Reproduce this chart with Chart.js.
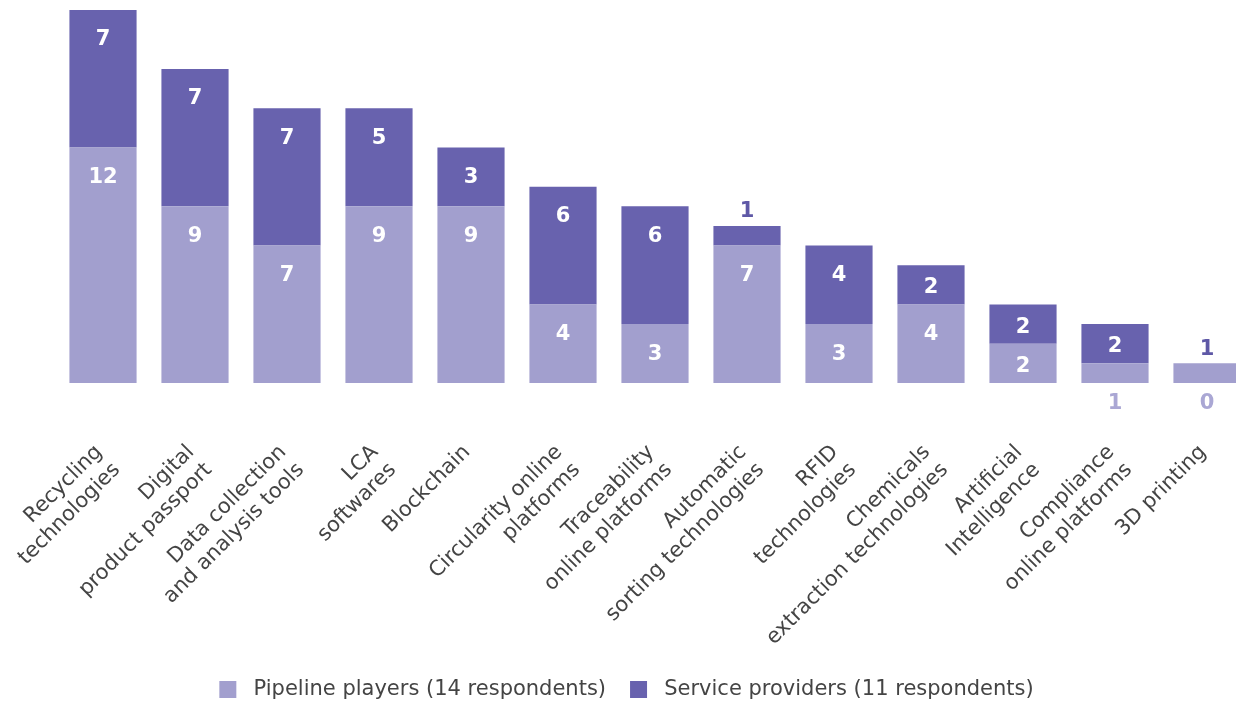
<!DOCTYPE html>
<html lang="en">
<head>
  <meta charset="UTF-8" />
  <title>Technologies used</title>
  <script src="https://cdn.jsdelivr.net/npm/chart.js"></script>
  <style>
    html, body {
      margin: 0;
      padding: 0;
      background: #fff;
      overflow: hidden;
    }
    .chart-container {
      position: relative;
      width: 1253px;
      height: 710px;
    }
  </style>
</head>
<body>
  <div class="chart-container">
    <canvas id="myChart"></canvas>
  </div>

  <script>
    const categories = [
      ['Recycling', 'technologies'],
      ['Digital', 'product passport'],
      ['Data collection', 'and analysis tools'],
      ['LCA', 'softwares'],
      ['Blockchain'],
      ['Circularity online', 'platforms'],
      ['Traceability', 'online platforms'],
      ['Automatic', 'sorting technologies'],
      ['RFID', 'technologies'],
      ['Chemicals', 'extraction technologies'],
      ['Artificial', 'Intelligence'],
      ['Compliance', 'online platforms'],
      ['3D printing']
    ];
    const pipelinePlayers = [12, 9, 7, 9, 9, 4, 3, 7, 3, 4, 2, 1, 0];
    const serviceProviders = [7, 7, 7, 5, 3, 6, 6, 1, 4, 2, 2, 2, 1];
    const seriesNames = ['Pipeline players (14 respondents)', 'Service providers (11 respondents)'];
    const yMax = 19;

    const lightPurple = '#a29fce';
    const darkPurple = '#6862ae';
    const lightLabel = '#aaa7d4';
    const darkLabel = '#5e58a6';
    const textGrey = '#444444';
    const fontFamily = '"DejaVu Sans", sans-serif';

    // numbers on the bars; segments of one are written outside the stack
    const barValueLabels = {
      id: 'barValueLabels',
      afterDatasetsDraw(chart) {
        const ctx = chart.ctx;
        const baseline = chart.scales.y.getPixelForValue(0);
        ctx.save();
        ctx.font = 'bold 21px ' + fontFamily;
        ctx.textAlign = 'center';
        ctx.textBaseline = 'middle';
        chart.data.datasets.forEach((ds, di) => {
          chart.getDatasetMeta(di).data.forEach((bar, i) => {
            const value = ds.data[i];
            const h = bar.base - bar.y;
            let y, color;
            if (value > 1) {
              y = bar.y + Math.min(27, h / 2) + 3;
              color = '#fff';
            } else if (di === 0) {
              y = baseline + 21;
              color = lightLabel;
            } else {
              y = bar.y - 14;
              color = darkLabel;
            }
            ctx.fillStyle = color;
            ctx.fillText(String(value), bar.x, y);
          });
        });
        ctx.restore();
      }
    };

    const ctx = document.getElementById('myChart').getContext('2d');

    const myChart = new Chart(ctx, {
      type: 'bar',
      data: {
        labels: categories,
        datasets: [
          {
            label: ' ' + seriesNames[0],
            data: pipelinePlayers,
            backgroundColor: lightPurple,
            barPercentage: 0.73,
            categoryPercentage: 1
          },
          {
            label: ' ' + seriesNames[1],
            data: serviceProviders,
            // a bar with no pipeline share keeps the lighter fill
            backgroundColor: (c) => pipelinePlayers[c.dataIndex] === 0 ? lightPurple : darkPurple,
            barPercentage: 0.73,
            categoryPercentage: 1
          }
        ]
      },
      options: {
        responsive: true,
        maintainAspectRatio: false,
        animation: false,
        layout: {
          padding: { top: 10, left: 0, right: 0, bottom: 0 }
        },
        scales: {
          x: {
            stacked: true,
            grid: { display: false, drawTicks: false },
            border: { display: false },
            ticks: {
              autoSkip: false,
              maxRotation: 45,
              minRotation: 45,
              padding: 57,
              labelOffset: -4,
              color: textGrey,
              font: { family: fontFamily, size: 21, lineHeight: 1.2 }
            },
            afterFit(scale) {
              // fixed axis band and left inset so the plot keeps its place
              scale.height = 272;
              scale.paddingLeft = 57;
              scale.paddingRight = 0;
            }
          },
          y: {
            stacked: true,
            display: false,
            min: 0,
            max: yMax
          }
        },
        plugins: {
          legend: {
            position: 'bottom',
            labels: {
              boxWidth: 17,
              boxHeight: 17,
              padding: 24,
              color: textGrey,
              font: { family: fontFamily, size: 21 }
            }
          },
          tooltip: { enabled: false }
        }
      },
      plugins: [barValueLabels]
    });
  </script>
</body>
</html>
